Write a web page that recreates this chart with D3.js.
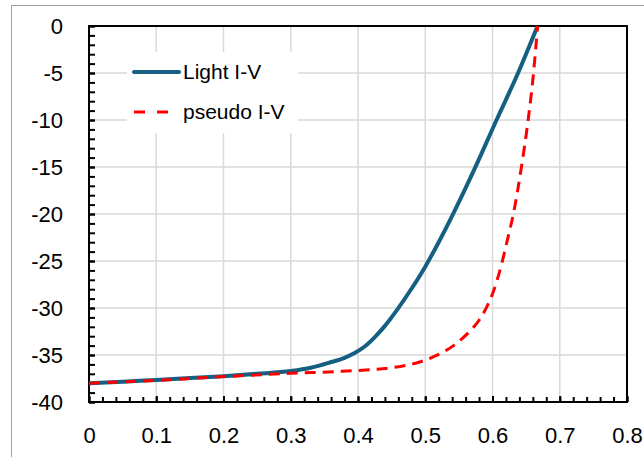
<!DOCTYPE html>
<html>
<head>
<meta charset="utf-8">
<script src="https://cdn.jsdelivr.net/npm/d3@7"></script>
<style>
  body { margin: 0; background: #fff; }
  text { font-family: "Liberation Sans", Arial, sans-serif; fill: #000; }
</style>
</head>
<body>
<div id="chart-area"></div>
<script>
// values
const xTicks = [0, 0.1, 0.2, 0.3, 0.4, 0.5, 0.6, 0.7, 0.8]
const yTicks = [0, -5, -10, -15, -20, -25, -30, -35, -40]

const lightV = [0, 0.05, 0.1, 0.15, 0.2, 0.25, 0.3, 0.33, 0.358, 0.38, 0.395, 0.41, 0.425, 0.44, 0.457, 0.48, 0.5, 0.52, 0.54, 0.574, 0.606, 0.638, 0.667]
const lightI = [-38.0, -37.85, -37.65, -37.45, -37.25, -37.0, -36.7, -36.35, -35.8, -35.3, -34.8, -34.1, -33.1, -31.9, -30.3, -27.9, -25.6, -23.0, -20.2, -15.1, -10.0, -5.0, 0]

const pseudoV = [0, 0.1, 0.2, 0.3, 0.373, 0.42, 0.45, 0.472, 0.487, 0.5, 0.515, 0.529, 0.542, 0.554, 0.57, 0.58, 0.59, 0.6, 0.607, 0.614, 0.622, 0.631, 0.643, 0.653, 0.661, 0.667]
const pseudoI = [-38.0, -37.7, -37.3, -36.95, -36.75, -36.55, -36.35, -36.1, -35.85, -35.55, -35.1, -34.6, -34.0, -33.3, -32.2, -31.3, -30.1, -28.5, -27.0, -25.2, -22.8, -20.0, -15.0, -10.0, -5.0, 0]

const seriesNames = ["Light I-V", "pseudo I-V"]
const seriesColors = ["#156082", "#ff0000"]

const W = 644, H = 457
const MARGIN = { LEFT: 89, RIGHT: 17, TOP: 26, BOTTOM: 55 }
const WIDTH = W - MARGIN.LEFT - MARGIN.RIGHT
const HEIGHT = H - MARGIN.TOP - MARGIN.BOTTOM

const svg = d3.select("#chart-area").append("svg")
  .attr("width", W)
  .attr("height", H)

// outer chart border
svg.append("rect")
  .attr("x", 11.5).attr("y", 5.5)
  .attr("width", W).attr("height", H)
  .attr("fill", "none")
  .attr("stroke", "#a0a0a0")
  .attr("stroke-width", 1)

const g = svg.append("g")
  .attr("transform", `translate(${MARGIN.LEFT}, ${MARGIN.TOP})`)

const x = d3.scaleLinear().domain([0, 0.8]).range([0, WIDTH])
const y = d3.scaleLinear().domain([-40, 0]).range([HEIGHT, 0])

// gridlines
g.append("g")
  .attr("class", "grid")
  .selectAll("line.v")
  .data(xTicks)
  .join("line")
    .attr("x1", d => x(d)).attr("x2", d => x(d))
    .attr("y1", 0).attr("y2", HEIGHT)
g.append("g")
  .attr("class", "grid")
  .selectAll("line.h")
  .data(yTicks)
  .join("line")
    .attr("x1", 0).attr("x2", WIDTH)
    .attr("y1", d => y(d)).attr("y2", d => y(d))
g.selectAll(".grid line")
  .attr("stroke", "#d9d9d9")
  .attr("stroke-width", 1.5)

// minor ticks
const xMinor = d3.range(0, 0.8001, 0.02)
const yMinor = d3.range(-40, 0.001, 1)

g.append("g")
  .attr("transform", `translate(0, ${HEIGHT})`)
  .call(d3.axisBottom(x).tickValues(xMinor).tickSize(-5).tickFormat(""))
g.append("g")
  .call(d3.axisLeft(y).tickValues(yMinor).tickSize(-6).tickFormat(""))

// major ticks + labels
g.append("g")
  .attr("class", "xaxis")
  .attr("transform", `translate(0, ${HEIGHT})`)
  .call(d3.axisBottom(x).tickValues(xTicks).tickSize(-6).tickPadding(25).tickFormat(d => String(d)))
g.append("g")
  .attr("class", "yaxis")
  .call(d3.axisLeft(y).tickValues(yTicks).tickSize(-6).tickPadding(26).tickFormat(d => String(d)))

g.selectAll(".domain").remove()
g.selectAll(".tick line").attr("stroke", "#000").attr("stroke-width", 2)
g.selectAll(".tick text")
  .style("font-size", "22px")
  .style("font-family", "'Liberation Sans', Arial, sans-serif")
  .attr("fill", "#000")

// plot frame
g.append("rect")
  .attr("width", WIDTH).attr("height", HEIGHT)
  .attr("fill", "none")
  .attr("stroke", "#000")
  .attr("stroke-width", 2)

// curves
const line = d3.line()
  .x(d => x(d[0]))
  .y(d => y(d[1]))
  .curve(d3.curveMonotoneX)

g.append("path")
  .datum(lightV.map((v, i) => [v, lightI[i]]))
  .attr("d", line)
  .attr("fill", "none")
  .attr("stroke", seriesColors[0])
  .attr("stroke-width", 4)

g.append("path")
  .datum(pseudoV.map((v, i) => [v, pseudoI[i]]))
  .attr("d", line)
  .attr("fill", "none")
  .attr("stroke", seriesColors[1])
  .attr("stroke-width", 3)
  .attr("stroke-dasharray", "11,7")

// legend
const legend = svg.append("g")
  .attr("class", "legend")

legend.append("rect")
  .attr("x", 127).attr("y", 52)
  .attr("width", 171).attr("height", 81)
  .attr("fill", "#fff")

seriesNames.forEach((name, i) => {
  const ly = 72 + i * 40
  legend.append("line")
    .attr("x1", 134).attr("x2", i === 0 ? 179 : 169)
    .attr("y1", ly).attr("y2", ly)
    .attr("stroke", seriesColors[i])
    .attr("stroke-width", i === 0 ? 4 : 3)
    .attr("stroke-linecap", i === 0 ? "round" : "butt")
    .attr("stroke-dasharray", i === 0 ? null : "11,12")
  legend.append("text")
    .attr("x", 183)
    .attr("y", ly)
    .attr("dy", "0.33em")
    .style("font-size", "21px")
    .text(name)
})
</script>
</body>
</html>
